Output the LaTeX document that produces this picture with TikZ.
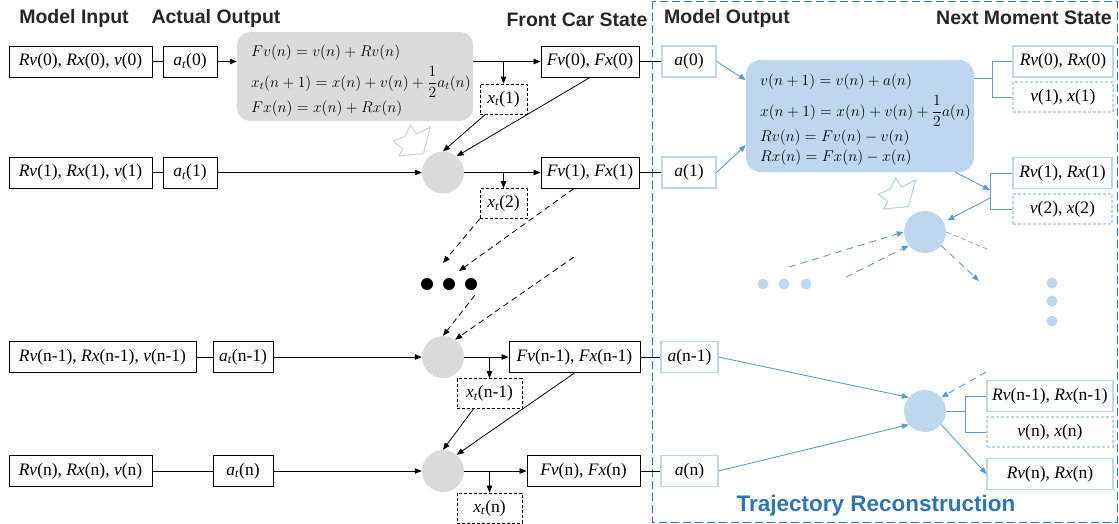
\documentclass[tikz,border=0pt]{standalone}
\usepackage{fix-cm}
\usepackage{fontspec}
\setmainfont{Liberation Serif}
\newfontfamily\hdfont{Liberation Sans}
\usetikzlibrary{arrows.meta,calc}
\definecolor{gfill}{HTML}{DADBDC}
\definecolor{bfill}{HTML}{BDD7EE}
\definecolor{barrow}{HTML}{5B9BD5}
\definecolor{bbord}{HTML}{BDD7EE}
\definecolor{frame}{HTML}{2E75B6}
\definecolor{stargray}{HTML}{D0D0D0}
\definecolor{starblue}{HTML}{AFCFEC}
\definecolor{hdcol}{HTML}{262626}
\newcommand\atx[1]{\textit{a}\textsubscript{\textit{t}}(#1)}
\newcommand\xtx[1]{\textit{x}\textsubscript{\textit{t}}(#1)}
\newcommand\half{{\displaystyle\frac{1}{2}}}
\begin{document}
\begin{tikzpicture}[x=1pt,y=-1pt,
 txt/.style={font=\fontsize{17.5}{20}\selectfont},
 box/.style={draw=black, line width=0.9pt, minimum height=31pt, inner sep=0pt, txt},
 dbox/.style={box, dash pattern=on 3pt off 2pt, line width=0.7pt, minimum height=30pt},
 bbox/.style={draw=bbord, line width=1.1pt, minimum height=31pt, inner sep=0pt, txt},
 bdbox/.style={bbox, dash pattern=on 3pt off 2pt, minimum height=30pt},
 gcirc/.style={circle, fill=gfill, minimum size=42pt, inner sep=0pt},
 bcirc/.style={circle, fill=bfill, minimum size=42pt, inner sep=0pt},
 kdot/.style={circle, fill=black, minimum size=12pt, inner sep=0pt},
 bdotsm/.style={circle, fill=bfill, minimum size=11pt, inner sep=0pt},
 hd/.style={font=\hdfont\bfseries\fontsize{19.5}{22}\selectfont, text=hdcol},
 eq/.style={anchor=base west, inner sep=0pt, font=\fontsize{15.5}{18}\selectfont},
 ln/.style={line width=0.8pt},
 arr/.style={ln, -{Triangle[length=7pt,width=5.5pt]}},
 darr/.style={arr, dash pattern=on 6pt off 4pt},
 bl/.style={draw=barrow, line width=0.9pt},
 barr/.style={bl, -{Triangle[length=7pt,width=5.5pt]}, barrow},
 bdarr/.style={barr, dash pattern=on 7pt off 5pt},
 burst/.pic={\draw[pic actions, line width=1pt, line join=miter] (17.5,0) -- (23.5,9) -- (37.5,2) -- (30.5,28.5) -- (6,31) -- (9.5,23.5) -- (0,16) -- (12,11.5) -- cycle;}
]
\useasboundingbox (0,0) rectangle (1119,523);

% headings
\node[hd] (h1) at (74,18) {Model Input};
\node[hd] (h2) at (216,18) {Actual Output};
\node[hd] (h3) at (577,20) {Front Car State};
\node[hd] (h4) at (727,18) {Model Output};
\node[hd] (h5) at (1024,18) {Next Moment State};
\node[hd, text=frame, font=\hdfont\bfseries\fontsize{22.5}{25}\selectfont] (h6) at (876,506) {Trajectory Reconstruction};

% frame
\draw[frame, line width=1pt, dash pattern=on 8pt off 4pt] (652,1) rectangle (1117,522);

% gray equation box
\node[fill=gfill, rounded corners=13pt, minimum width=236pt, minimum height=89pt, inner sep=0pt] (gbox) at (355,76.5) {};
\node[eq] (ge1) at (251,56) {$Fv(n) = v(n) + Rv(n)$};
\node[eq] (ge2) at (251,87) {$x_t(n+1) = x(n) + v(n) + \half a_t(n)$};
\node[eq] (ge3) at (251,112) {$Fx(n) = x(n) + Rx(n)$};

% blue equation box
\node[fill=bfill, rounded corners=15pt, minimum width=228pt, minimum height=112pt, inner sep=0pt] (bbx) at (860,116) {};
\node[eq] (be1) at (760,85) {$v(n+1) = v(n) + a(n)$};
\node[eq] (be2) at (760,116) {$x(n+1) = x(n) + v(n) + \half a(n)$};
\node[eq] (be3) at (760,141) {$Rv(n) = Fv(n) - v(n)$};
\node[eq] (be4) at (760,161) {$Rx(n) = Fx(n) - x(n)$};

% stars
\pic[draw=stargray] (st1) at (393,125) {burst};
\pic[draw=starblue] (st2) at (878,178) {burst};

% row 0
\node[box, minimum width=143pt] (in0) at (80.5,61.5) {\textit{Rv}(0), \textit{Rx}(0), \textit{v}(0)};
\node[box, minimum width=54pt] (at0) at (190,61.5) {\atx{0}};
\node[box, minimum width=98pt] (fs0) at (590,61.5) {\textit{Fv}(0), \textit{Fx}(0)};
\node[dbox, minimum width=47pt] (xt1) at (503.5,99) {\xtx{1}};
\node[bbox, minimum width=54pt] (a0) at (689,61.5) {\textit{a}(0)};
\node[bbox, minimum width=100pt] (n0a) at (1063,61.5) {\textit{Rv}(0), \textit{Rx}(0)};
\node[bdbox, minimum width=100pt] (n0b) at (1063,97) {\textit{v}(1), \textit{x}(1)};

% row 1
\node[box, minimum width=143pt] (in1) at (80.5,172.5) {\textit{Rv}(1), \textit{Rx}(1), \textit{v}(1)};
\node[box, minimum width=54pt] (at1) at (190,172.5) {\atx{1}};
\node[gcirc] (c1) at (443,172.5) {};
\node[box, minimum width=98pt] (fs1) at (590,172.5) {\textit{Fv}(1), \textit{Fx}(1)};
\node[dbox, minimum width=47pt] (xt2) at (503.5,203.5) {\xtx{2}};
\node[bbox, minimum width=54pt] (a1) at (689,172.5) {\textit{a}(1)};
\node[bbox, minimum width=99pt] (n1a) at (1062.5,173) {\textit{Rv}(1), \textit{Rx}(1)};
\node[bdbox, minimum width=99pt] (n1b) at (1062.5,209) {\textit{v}(2), \textit{x}(2)};
\node[bcirc] (bc2) at (925,232) {};

% dots
\node[kdot] (k1d) at (427,284) {};
\node[kdot] (k2d) at (449,284) {};
\node[kdot] (k3d) at (471,284) {};
\node[bdotsm] (b1d) at (763,284) {};
\node[bdotsm] (b2d) at (784,284) {};
\node[bdotsm] (b3d) at (806,284) {};
\node[bdotsm] (v1d) at (1052,283) {};
\node[bdotsm] (v2d) at (1052,301) {};
\node[bdotsm] (v3d) at (1052,321) {};

% row n-1
\node[box, minimum width=187pt] (inm) at (102.5,357) {\textit{Rv}(n-1), \textit{Rx}(n-1), \textit{v}(n-1)};
\node[box, minimum width=60pt] (atm) at (243,357) {\atx{n-1}};
\node[gcirc] (c3) at (443,357) {};
\node[box, minimum width=131pt] (fsm) at (574.5,357) {\textit{Fv}(n-1), \textit{Fx}(n-1)};
\node[dbox, minimum width=65pt] (xtm) at (489.5,393.5) {\xtx{n-1}};
\node[bbox, minimum width=57pt] (am) at (689.5,357) {\textit{a}(n-1)};
\node[bcirc] (bc3) at (925,411) {};
\node[bbox, minimum width=126pt] (nma) at (1050,396) {\textit{Rv}(n-1), \textit{Rx}(n-1)};
\node[bdbox, minimum width=126pt] (nmb) at (1050,432) {\textit{v}(n), \textit{x}(n)};
\node[bbox, minimum width=126pt] (nmc) at (1050,474) {\textit{Rv}(n), \textit{Rx}(n)};

% row n
\node[box, minimum width=143pt] (inn) at (80.5,471) {\textit{Rv}(n), \textit{Rx}(n), \textit{v}(n)};
\node[box, minimum width=60pt] (atn) at (243,471) {\atx{n}};
\node[gcirc] (c4) at (443,471) {};
\node[box, minimum width=113pt] (fsn) at (583.5,471) {\textit{Fv}(n), \textit{Fx}(n)};
\node[dbox, minimum width=65pt] (xtn) at (489.5,508) {\xtx{n}};
\node[bbox, minimum width=57pt] (an) at (689.5,471) {\textit{a}(n)};

% black connectors row 0
\draw[ln] (in0) -- (at0);
\draw[arr] (at0.east) -- (at0.east -| gbox.west);
\draw[arr] (fs0.west -| gbox.east) -- (fs0.west);
\draw[arr] (xt1.north |- fs0.west) -- (xt1.north);
\draw[ln] (fs0) -- (a0);
\draw[arr] ([xshift=-18pt]xt1.south) -- (c1.north);
\draw[arr] (fs0.south) -- (c1.50);

% row 1
\draw[ln] (in1) -- (at1);
\draw[arr] (at1) -- (c1);
\draw[arr] (c1) -- (fs1);
\draw[arr] (xt2.north |- fs1.west) -- (xt2.north);
\draw[ln] (fs1) -- (a1);
\coordinate (p1) at (443,263);
\coordinate (p2) at (459,271);
\draw[darr] (xt2.south west) -- (p1);
\draw[darr] ([xshift=-16pt]fs1.south) -- (p2);

% middle
\coordinate (q1) at (574,257);
\coordinate (q2) at (475,295);
\draw[darr] (q1) -- (c3.55);
\draw[darr] (q2) -- (c3.north);

% row n-1
\draw[ln] (inm) -- (atm);
\draw[arr] (atm) -- (c3);
\draw[arr] (c3) -- (fsm);
\draw[arr] (xtm.north |- fsm.west) -- (xtm.north);
\draw[ln] (fsm) -- (am);
\draw[arr] ([xshift=-16pt]xtm.south) -- (c4.north);
\draw[arr] (fsm.south) -- (c4.50);

% row n
\draw[ln] (inn) -- (atn);
\draw[arr] (atn) -- (c4);
\draw[arr] (c4) -- (fsn);
\draw[arr] (xtn.north |- fsn.west) -- (xtn.north);
\draw[ln] (fsn) -- (an);

% blue connectors
\draw[barr] (a0.east) -- ([yshift=36pt]bbx.west);
\draw[barr] (a1.east) -- ([yshift=-29pt]bbx.west);
\coordinate (k0) at (992,78);
\draw[bl] ([yshift=38pt]bbx.east) -- (k0);
\draw[bl] (n0a.west) -| (k0) |- (n0b.west);
\coordinate (kk1) at (990,190);
\draw[barr] ([xshift=-19pt]bbx.south east) -- (kk1);
\draw[bl] (n1a.west) -| (kk1) |- (n1b.west);
\draw[barr, shorten >=4pt] ([yshift=-8pt]kk1) -- (bc2);
\coordinate (u1) at (789,267);
\coordinate (u2) at (846,277);
\draw[bdarr] (u1) -- (bc2.180);
\draw[bdarr] (u2) -- (bc2.220);
\coordinate (u3) at (987,249);
\coordinate (u4) at (979,281);
\draw[bl, line width=0.6pt, dash pattern=on 5pt off 3pt] (bc2.east) -- (u3);
\draw[bdarr] (bc2.320) -- (u4);

\draw[barr] (am.east) -- (bc3.140);
\draw[barr] (an.east) -- (bc3.220);
\coordinate (u5) at (986,372);
\draw[bdarr] (u5) -- (bc3.40);
\coordinate (kk3) at (965,411);
\draw[bl] (bc3.east) -- (kk3);
\draw[bl] (nma.west) -| (kk3) |- (nmb.west);
\draw[barr] (bc3.320) -- (nmc.west);
\end{tikzpicture}
\end{document}
